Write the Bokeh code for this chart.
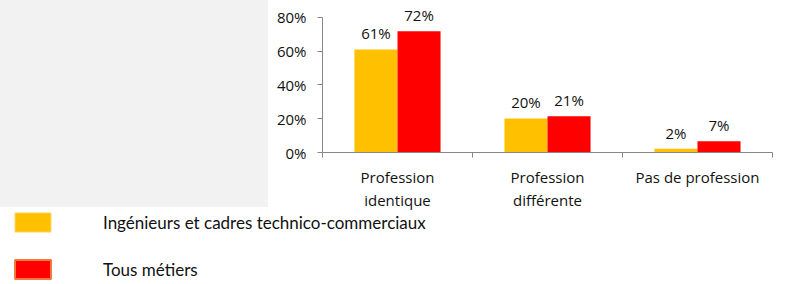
from bokeh.plotting import figure
from bokeh.models import (Range1d, FixedTicker, PrintfTickFormatter, ColumnDataSource,
                          LabelSet, Legend, LegendItem, Spacer)
from bokeh.core.properties import value
from bokeh.layouts import row, column
from bokeh.embed import file_html
from bokeh.resources import INLINE

# ---- data ----
categories = ["Profession\nidentique", "Profession\ndifférente", "Pas de profession"]
ingenieurs = [61.0, 20.2, 2.2]
tous_metiers = [71.8, 21.4, 6.7]
series_names = ["Ingénieurs et cadres technico-commerciaux", "Tous métiers"]
y_ticks = [0, 20, 40, 60, 80]

YELLOW = "#FFC000"
RED = "#FF0000"
AXIS = "#878787"
FONT = "Open Sans"
TXT = "#111111"

n = len(categories)
centers = [i + 0.5 for i in range(n)]
bw = 0.287
src = ColumnDataSource(dict(
    xa=[c - bw / 2 for c in centers],
    xb=[c + bw / 2 for c in centers],
    a=ingenieurs, b=tous_metiers,
    la=["{:.0f}%".format(v) for v in ingenieurs],
    lb=["{:.0f}%".format(v) for v in tous_metiers],
))

p = figure(width=518, height=212, x_range=Range1d(0, n), y_range=Range1d(0, 90),
           toolbar_location=None, output_backend="svg",
           min_border_left=54, min_border_right=14, min_border_top=0, min_border_bottom=59)
p.outline_line_color = None
p.xgrid.visible = False
p.ygrid.visible = False

p.vbar(x="xa", top="a", width=bw, source=src, fill_color=YELLOW, line_color=None)
p.vbar(x="xb", top="b", width=bw, source=src, fill_color=RED, line_color=None)

for xcol, tcol, ycol in [("xa", "la", "a"), ("xb", "lb", "b")]:
    p.add_layout(LabelSet(x=xcol, y=ycol, text=tcol, source=src, text_align="center",
                          text_baseline="alphabetic", y_offset=10,
                          text_font=value(FONT), text_font_size="15px", text_color=TXT))

# y axis
p.yaxis.ticker = FixedTicker(ticks=y_ticks, minor_ticks=[])
p.yaxis.bounds = (0, 80)
p.yaxis.formatter = PrintfTickFormatter(format="%d%%")
p.yaxis.axis_line_color = AXIS
p.yaxis.major_tick_line_color = AXIS
p.yaxis.major_tick_out = 5
p.yaxis.major_tick_in = 0
p.yaxis.major_label_standoff = 11
p.yaxis.major_label_text_font = FONT
p.yaxis.major_label_text_font_size = "15px"
p.yaxis.major_label_text_color = TXT

# x axis
p.xaxis.ticker = FixedTicker(ticks=centers, minor_ticks=list(range(n + 1)))
# single-line labels get an empty second line so all labels are top-aligned
p.xaxis.major_label_overrides = {c: (lab if "\n" in lab else lab + "\n ")
                                 for c, lab in zip(centers, categories)}
p.xaxis.axis_line_color = AXIS
p.xaxis.major_tick_line_color = None
p.xaxis.major_tick_out = 0
p.xaxis.major_tick_in = 0
p.xaxis.minor_tick_line_color = AXIS
p.xaxis.minor_tick_out = 5
p.xaxis.minor_tick_in = 0
p.xaxis.major_label_standoff = 9
p.xaxis.major_label_text_font = FONT
p.xaxis.major_label_text_font_size = "15px"
p.xaxis.major_label_text_color = TXT
p.xaxis.major_label_text_line_height = 1.15

grey = Spacer(width=268, height=207, styles={"background-color": "#f2f2f2"})

# legend figure (renderers hidden, only used for legend glyphs)
lf = figure(width=786, height=77, toolbar_location=None, output_backend="svg",
            x_axis_type=None, y_axis_type=None, x_range=Range1d(0, 1), y_range=Range1d(0, 1),
            min_border_left=10, min_border_top=3, min_border_right=0, min_border_bottom=0,
            styles={"margin-top": "-5px"})
lf.outline_line_color = None
lf.background_fill_color = None
lf.border_fill_color = None
lf.xgrid.visible = False
lf.ygrid.visible = False
r1 = lf.vbar(x="xa", top="a", width=bw, source=src, fill_color=YELLOW,
             line_color="#FFD966", line_width=1, visible=False)
r2 = lf.vbar(x="xb", top="b", width=bw, source=src, fill_color=RED,
             line_color="#F4793B", line_width=2, visible=False)
leg = Legend(items=[LegendItem(label=series_names[0], renderers=[r1]),
                    LegendItem(label=series_names[1], renderers=[r2])],
             location="top_left", orientation="vertical", padding=0, margin=0,
             spacing=23, glyph_width=45, glyph_height=24, label_standoff=48,
             border_line_color=None, background_fill_alpha=0, click_policy="none",
             label_text_font="Lato", label_text_font_size="17px", label_text_color=TXT)
lf.add_layout(leg)

layout = column(row(grey, p, spacing=0), lf, spacing=0)

open("out.html", "w").write(file_html(layout, INLINE))
